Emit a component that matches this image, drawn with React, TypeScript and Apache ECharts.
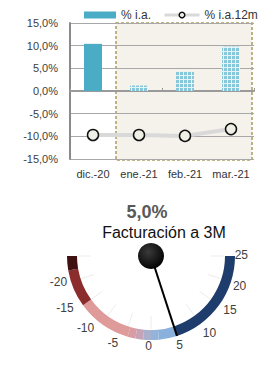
import React, { useEffect, useRef } from 'react';
import * as echarts from 'echarts';

const categories = ['dic.-20', 'ene.-21', 'feb.-21', 'mar.-21'];
const iaValues = [10.4, 1.2, 4.3, 9.8];
const ia12mValues = [-9.7, -9.7, -9.9, -8.4];
const yMin = -15;
const yMax = 15;
const yInterval = 5;
const seriesNames = ['% i.a.', '% i.a.12m'];
const shadedFrom = 'ene.-21';
const shadedTo = 'mar.-21';

const gaugeValue = 5.0;
const gaugeTitle = 'Facturación a 3M';
const gaugeMin = -25;
const gaugeMax = 25;
const gaugeColorStops: [number, string][] = [
  [0.055, '#3f1111'],
  [0.2, '#8c2d2d'],
  [0.41, '#df9a9a'],
  [0.44, '#d99ca2'],
  [0.47, '#c4a4b6'],
  [0.5, '#a8b0cc'],
  [0.53, '#94b3da'],
  [0.6, '#8ab0dc'],
  [1, '#1f3d6c'],
];

const FONT = '"Liberation Sans", Arial, sans-serif';
const fmtPct = (v: number) => v.toFixed(1).replace('.', ',') + '%';

// per-tick label nudges (padding: top, right, bottom, left) — styling only
const gaugeLabelPad: Record<string, number[]> = {
  '-20': [0, 0, 33, 30],
  '-15': [0, 0, 59, 17],
  '-10': [0, 0, 65, 7],
  '-5': [0, 0, 75, 9],
  '0': [0, 5, 83, 0],
  '5': [0, 28, 70, 0],
  '10': [0, 16, 56, 0],
  '15': [0, 26, 54, 0],
  '20': [0, 36, 26, 0],
  '25': [0, 41, 3, 0],
};

export default function App() {
  const ref = useRef<HTMLDivElement>(null);
  useEffect(() => {
    if (!ref.current) return;
    const chart = echarts.init(ref.current, undefined, { renderer: 'svg' });
    const patternStyle = {
      color: '#e6f4f8',
      decal: {
        symbol: 'rect',
        symbolSize: 1,
        color: '#86c7d9',
        dashArrayX: [3, 1],
        dashArrayY: [3, 1],
        rotation: 0,
      },
    };
    const lt = { fontSize: 12, color: '#404040', fontFamily: FONT, lineHeight: 14 };
    const rich: Record<string, any> = {};
    const keyOf = (v: number) => 'k' + String(v).replace('-', 'm');
    Object.keys(gaugeLabelPad).forEach((k) => {
      rich[keyOf(Number(k))] = { ...lt, padding: gaugeLabelPad[k] };
    });
    const option: any = {
      animation: false,
      textStyle: { fontFamily: FONT },
      legend: [
        {
          data: [{ name: seriesNames[0], icon: 'rect' }],
          left: 84,
          top: 9,
          itemWidth: 32,
          itemHeight: 7,
          padding: 0,
          textStyle: { fontSize: 12, color: '#333', fontFamily: FONT },
        },
        {
          data: [seriesNames[1]],
          left: 163,
          top: 9,
          itemWidth: 35,
          itemHeight: 7,
          padding: 0,
          lineStyle: { color: '#d9d9d9', width: 3 },
          itemStyle: { color: '#efefe6', borderColor: '#111', borderWidth: 1.5 },
          textStyle: { fontSize: 12, color: '#333', fontFamily: FONT },
        },
      ],
      grid: { left: 70, right: 8, top: 23, height: 136, containLabel: false },
      xAxis: [
        {
          type: 'category',
          data: categories,
          position: 'bottom',
          axisLine: { show: false, onZero: false },
          axisTick: { show: false },
          axisLabel: { interval: 0, fontSize: 11, color: '#333', margin: 9, fontFamily: FONT },
        },
        {
          type: 'category',
          data: categories,
          axisLine: { show: true, onZero: true, lineStyle: { color: '#9a9a9a', width: 2 } },
          axisTick: { show: true, length: 3, lineStyle: { color: '#9a9a9a' } },
          axisLabel: { show: false },
        },
      ],
      yAxis: {
        type: 'value',
        min: yMin,
        max: yMax,
        interval: yInterval,
        axisLine: { show: true, lineStyle: { color: '#8a8a8a', width: 2 } },
        axisTick: { show: false },
        splitLine: { lineStyle: { color: '#a8a8a8', width: 1 } },
        axisLabel: { fontSize: 11, color: '#404040', margin: 12, formatter: fmtPct, fontFamily: FONT },
      },
      series: [
        {
          name: seriesNames[0],
          type: 'bar',
          xAxisIndex: 0,
          barWidth: 18,
          itemStyle: { color: '#4bacc6' },
          data: iaValues.map((v, i) => (i === 0 ? v : { value: v, itemStyle: patternStyle })),
          z: 3,
        },
        {
          name: seriesNames[1],
          type: 'line',
          xAxisIndex: 0,
          data: ia12mValues,
          symbol: 'circle',
          symbolSize: 11,
          lineStyle: { color: '#d9d9d9', width: 4 },
          itemStyle: { color: '#efefe6', borderColor: '#111', borderWidth: 1.5 },
          z: 4,
        },
        {
          type: 'gauge',
          center: [151, 256],
          radius: 84,
          min: gaugeMin,
          max: gaugeMax,
          startAngle: 180,
          endAngle: 360,
          clockwise: false,
          splitNumber: 10,
          axisLine: { lineStyle: { width: 10, color: gaugeColorStops } },
          splitLine: { show: true, distance: 1, length: 13, lineStyle: { color: '#ececec', width: 1 } },
          axisTick: { show: false },
          axisLabel: {
            distance: -68,
            ...lt,
            formatter: (v: number) => (v === gaugeMin ? '' : `{${keyOf(v)}|${v}}`),
            rich,
          },
          pointer: {
            show: true,
            icon: 'rect',
            width: 2,
            length: '100%',
            itemStyle: { color: '#000' },
          },
          anchor: {
            show: true,
            showAbove: true,
            size: 26,
            itemStyle: {
              color: new echarts.graphic.RadialGradient(0.4, 0.35, 0.7, [
                { offset: 0, color: '#3a3a3a' },
                { offset: 1, color: '#000' },
              ]),
            },
          },
          title: {
            show: true,
            offsetCenter: [13, -24],
            fontSize: 16,
            color: '#111',
            fontFamily: FONT,
          },
          detail: {
            show: true,
            offsetCenter: [-4, -44],
            fontSize: 18,
            fontWeight: 'bold',
            color: '#595959',
            fontFamily: FONT,
            formatter: (v: number) => fmtPct(v),
          },
          data: [{ value: gaugeValue, name: gaugeTitle }],
        },
      ],
    };
    chart.setOption(option);

    const xa = chart.convertToPixel({ xAxisIndex: 0 }, shadedFrom) as number;
    const xb = chart.convertToPixel({ xAxisIndex: 0 }, shadedTo) as number;
    const x0p = chart.convertToPixel({ xAxisIndex: 0 }, categories[0]) as number;
    const band = xa - x0p;
    const yTop = chart.convertToPixel({ yAxisIndex: 0 }, yMax) as number;
    const yBot = chart.convertToPixel({ yAxisIndex: 0 }, yMin) as number;
    chart.setOption({
      graphic: [
        {
          type: 'rect',
          z: -10,
          shape: { x: xa - band / 2, y: yTop, width: xb - xa + band - 2, height: yBot - yTop + 1 },
          style: { fill: '#f4f2eb', stroke: '#a99c5e', lineWidth: 1.5, lineDash: [3, 2] },
        },
      ],
    });
    return () => chart.dispose();
  }, []);
  return (
    <div
      ref={ref}
      style={{ position: 'absolute', left: 0, top: 0, width: 262, height: 365, background: '#fff' }}
    />
  );
}
